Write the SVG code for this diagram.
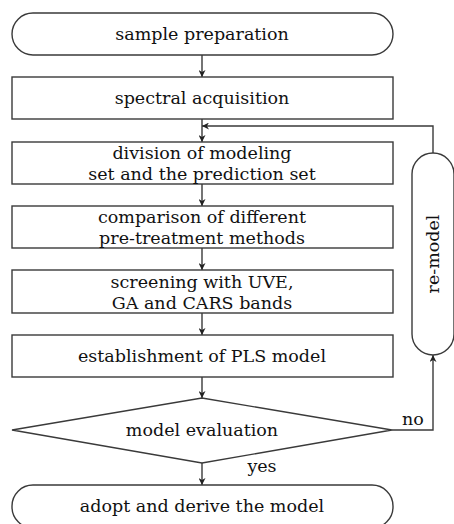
<svg xmlns="http://www.w3.org/2000/svg" width="454" height="524" viewBox="0 0 454 524">
<style>
.s{fill:#fff;stroke:#3a3a3a;stroke-width:1.4}
.t{font-family:"DejaVu Serif","Liberation Serif",serif;font-size:17.5px;fill:#111;text-anchor:middle}
.c{fill:none;stroke:#3a3a3a;stroke-width:1.4}
</style>
<defs>
<marker id="ah" viewBox="0 0 10 10" refX="10" refY="5" markerWidth="7" markerHeight="7" orient="auto" markerUnits="userSpaceOnUse">
<path d="M0,0 L10,5 L0,10 L3,5 Z" fill="#222"/>
</marker>
</defs>
<rect width="454" height="524" fill="#fff"/>
<g id="connectors">
<line class="c" x1="202" y1="55" x2="202" y2="77" marker-end="url(#ah)"/>
<line class="c" x1="202" y1="119" x2="202" y2="142" marker-end="url(#ah)"/>
<line class="c" x1="202" y1="184" x2="202" y2="206" marker-end="url(#ah)"/>
<line class="c" x1="202" y1="248" x2="202" y2="270" marker-end="url(#ah)"/>
<line class="c" x1="202" y1="313" x2="202" y2="335" marker-end="url(#ah)"/>
<line class="c" x1="202" y1="377" x2="202" y2="398" marker-end="url(#ah)"/>
<line class="c" x1="202" y1="463" x2="202" y2="485" marker-end="url(#ah)"/>
<polyline class="c" points="392,430 433,430 433,355" marker-end="url(#ah)"/>
<polyline class="c" points="433,153 433,126 202,126" marker-end="url(#ah)"/>
<text class="t" x="413" y="425">no</text>
<text class="t" x="262" y="472">yes</text>
</g>
<g id="n1"><rect class="s" x="12" y="13" width="381" height="42" rx="21"/><text class="t" x="202" y="40">sample preparation</text></g>
<g id="n2"><rect class="s" x="12" y="77" width="381" height="42"/><text class="t" x="202" y="104">spectral acquisition</text></g>
<g id="n3"><rect class="s" x="12" y="142" width="381" height="42"/><text class="t" x="202" y="159">division of modeling</text><text class="t" x="202" y="180">set and the prediction set</text></g>
<g id="n4"><rect class="s" x="12" y="206" width="381" height="42"/><text class="t" x="202" y="223">comparison of different</text><text class="t" x="202" y="244">pre-treatment methods</text></g>
<g id="n5"><rect class="s" x="12" y="270" width="381" height="43"/><text class="t" x="202" y="288">screening with UVE,</text><text class="t" x="202" y="309">GA and CARS bands</text></g>
<g id="n6"><rect class="s" x="12" y="335" width="381" height="42"/><text class="t" x="202" y="362">establishment of PLS model</text></g>
<g id="n7"><polygon class="s" points="12,430 202,398 392,430 202,463"/><text class="t" x="202" y="436">model evaluation</text></g>
<g id="n8"><rect class="s" x="12" y="485" width="381" height="43" rx="21"/><text class="t" x="202" y="512">adopt and derive the model</text></g>
<g id="n9"><rect class="s" x="412" y="153" width="42" height="202" rx="21"/><text class="t" transform="translate(439,254) rotate(-90)">re-model</text></g>
</svg>
